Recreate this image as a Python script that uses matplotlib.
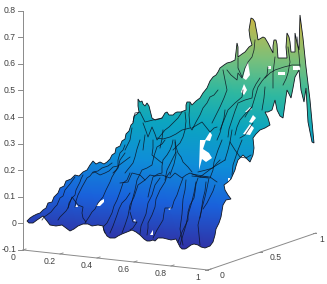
import matplotlib
import numpy as np

matplotlib.use("Agg")

from matplotlib import pyplot as plt  # noqa: E402
from matplotlib.colors import LinearSegmentedColormap  # noqa: E402
from matplotlib.patches import Polygon  # noqa: E402

plt.rcParams["font.family"] = ["Liberation Sans", "DejaVu Sans"]

z_ticks = [-0.1, 0, 0.1, 0.2, 0.3, 0.4, 0.5, 0.6, 0.7, 0.8]
z_labels = ["-0.1", "0", "0.1", "0.2", "0.3", "0.4", "0.5", "0.6", "0.7", "0.8"]
x_ticks = [0, 0.2, 0.4, 0.6, 0.8, 1]
x_labels = ["0", "0.2", "0.4", "0.6", "0.8", "1"]
y_ticks = [0, 0.5, 1]
y_labels = ["0", "0.5", "1"]

edge_top = [
    (27, 221), (30, 218), (33, 216), (37, 214), (40, 213), (43, 210), (46, 208), (48, 203), (52, 202),
    (54, 197), (58, 193), (60, 188), (64, 186), (66, 181), (71, 179), (75, 175), (79, 176), (83, 172),
    (87, 170), (90, 165), (93, 161), (96, 164), (100, 162), (104, 164), (107, 162), (110, 159), (112, 155),
    (115, 153), (116, 148), (120, 146), (122, 141), (125, 139), (126, 134), (129, 131), (131, 125),
    (133, 123), (134, 116), (137, 114), (139, 112), (138, 106), (138, 99), (140, 102), (142, 101),
    (143, 104), (145, 106), (147, 103), (149, 106), (150, 110), (152, 118), (155, 120), (159, 119),
    (162, 118), (165, 113), (167, 112), (169, 115), (173, 115), (175, 113), (177, 112), (181, 112),
    (186, 110), (186, 105), (187, 102), (190, 102), (192, 105), (196, 101), (200, 98), (203, 93),
    (207, 88), (210, 81), (213, 77), (216, 75), (218, 72), (220, 68), (224, 65), (227, 63), (231, 62),
    (235, 60), (236, 52), (237, 43), (238, 47), (238, 57), (242, 54), (245, 52), (249, 47), (252, 45),
    (250, 38), (249, 30), (250, 24), (251, 18), (253, 19), (255, 22), (256, 28), (257, 33), (258, 40),
    (263, 37), (265, 38), (268, 43), (271, 49), (273, 53), (273, 46), (274, 40), (276, 40), (277, 44),
    (278, 58), (287, 58), (286, 47), (287, 33), (289, 37), (290, 42), (291, 52), (295, 52), (295, 33),
    (297, 43), (299, 50), (300, 15),
]
edge_spike = [
    (303, 38), (306, 67), (310, 100), (314, 143), (312, 142), (308, 122), (306, 88),
    (304, 102), (301, 90), (299, 70),
]
edge_right = [
    (295, 77), (293, 88), (291, 98), (289, 94), (287, 90), (285, 104), (283, 118), (280, 116), (277, 110),
    (276, 105), (275, 100), (272, 110), (268, 112), (265, 112), (268, 118), (270, 125), (265, 128),
    (260, 130), (256, 134), (253, 138), (254, 148), (253, 155), (250, 162), (246, 158), (243, 155),
    (238, 160), (236, 166), (235, 170), (231, 179), (228, 182), (224, 185), (225, 190), (228, 195),
    (231, 199), (226, 200), (223, 205), (222, 211), (221, 217), (219, 223), (216, 229), (215, 235),
    (213, 242), (210, 246), (205, 248),
]
edge_bottom = [
    (201, 247), (198, 245), (194, 244), (191, 245), (187, 248), (185, 249), (182, 249), (180, 247),
    (178, 243), (176, 239), (171, 240), (167, 239), (163, 238), (158, 238), (155, 241), (153, 240),
    (150, 241), (147, 241), (144, 239), (140, 235), (136, 232), (132, 230), (127, 232), (122, 234),
    (118, 236), (115, 238), (110, 238), (107, 236), (104, 231), (103, 226), (98, 225), (92, 226),
    (88, 224), (83, 224), (78, 226), (74, 229), (70, 231), (66, 228), (62, 225), (56, 226), (50, 225),
    (47, 221), (43, 216), (40, 218), (37, 220), (33, 223), (29, 223),
]

holes = [
    [(96, 206), (100, 201), (104, 199), (104, 202), (100, 206)],
    [(243, 78), (246, 65), (248, 62), (250, 75), (246, 80)],
    [(241, 92), (244, 84), (247, 90), (244, 95)],
    [(245, 112), (250, 107), (252, 109), (247, 112)],
    [(249, 122), (253, 115), (256, 118), (252, 123)],
    [(243, 134), (250, 124), (254, 128), (250, 135)],
    [(205, 140), (210, 132), (212, 135), (210, 141)],
    [(200, 140), (206, 140), (203, 149), (209, 153), (212, 158), (206, 162), (202, 159), (199, 170)],
    [(268, 66), (271, 66), (271, 69), (268, 69)],
    [(278, 72), (285, 72), (285, 75), (278, 75)],
    [(293, 66), (300, 66), (300, 70), (293, 70)],
    [(228, 178), (230, 178), (230, 181), (228, 181)],
    [(75, 207), (77, 204), (78, 207)],
    [(133, 221), (135, 219), (136, 222)],
    [(168, 209), (171, 207), (170, 210)],
    [(150, 235), (153, 230), (153, 235)],
]

contours = [
    [(42, 220), (44, 217), (47, 215), (51, 212), (55, 207), (57, 205), (60, 198), (63, 196), (65, 190), (70, 184), (75, 177)],
    [(58, 220), (60, 217), (62, 215), (66, 211), (68, 208), (69, 203), (72, 198), (75, 195), (76, 190), (80, 182), (81, 179), (83, 175)],
    [(85, 223), (89, 217), (92, 212), (95, 209), (98, 203), (103, 197), (106, 190), (110, 182), (112, 177), (115, 172), (118, 168), (120, 160), (125, 153)],
    [(105, 233), (103, 227), (107, 223), (110, 217), (112, 213), (114, 206), (117, 200), (120, 192), (123, 183), (127, 180), (130, 173)],
    [(75, 207), (76, 201), (78, 195), (82, 187), (87, 178), (90, 176), (93, 172), (98, 171), (102, 168), (108, 166), (112, 163)],
    [(68, 208), (72, 197), (75, 201), (78, 205), (83, 207), (82, 213), (83, 218), (86, 222)],
    [(110, 233), (113, 226), (117, 215), (119, 209), (122, 203), (126, 199), (130, 193)],
    [(93, 173), (95, 172), (100, 175), (105, 173), (109, 171), (113, 167), (118, 166), (122, 163), (126, 160), (130, 157)],
    [(113, 173), (116, 170), (118, 167), (118, 160), (120, 153), (123, 150), (125, 145)],
    [(122, 233), (125, 225), (128, 216), (130, 205), (134, 197), (138, 185), (145, 180)],
    [(140, 234), (141, 226), (146, 214), (148, 203), (152, 195), (155, 185), (160, 178)],
    [(147, 235), (148, 228), (148, 223), (152, 215), (155, 207), (156, 199), (160, 190), (165, 182), (167, 176), (170, 172)],
    [(153, 238), (157, 230), (163, 220), (164, 213), (165, 208), (172, 208), (174, 201), (177, 195), (180, 186), (183, 178)],
    [(178, 242), (182, 232), (188, 220), (188, 212), (190, 205), (194, 198), (195, 192), (196, 184), (198, 178)],
    [(200, 218), (202, 208), (205, 197), (207, 188), (209, 178)],
    [(130, 212), (133, 222), (137, 222), (133, 228), (130, 230)],
    [(130, 210), (132, 201), (135, 190), (137, 180), (142, 170), (147, 168), (152, 165), (154, 156), (157, 147), (162, 144), (165, 140)],
    [(148, 197), (150, 188), (153, 177), (158, 174), (162, 173), (162, 166), (163, 160), (167, 155), (170, 150), (172, 145), (173, 140)],
    [(120, 183), (128, 182), (132, 173), (136, 174), (140, 175), (145, 180), (150, 175), (155, 176), (162, 175), (170, 178),
     (175, 173), (182, 178), (186, 175), (190, 173), (200, 177), (210, 177), (217, 182)],
    [(175, 140), (176, 147), (178, 153), (181, 157), (183, 162), (188, 167), (192, 172)],
    [(140, 140), (137, 149), (135, 157), (133, 163), (129, 168), (125, 173)],
    [(153, 140), (153, 148), (152, 155), (157, 159), (162, 163)],
    [(198, 172), (206, 170), (213, 168), (217, 163), (220, 160)],
    [(133, 122), (135, 113), (140, 112), (143, 118), (145, 122), (153, 120), (162, 118)],
    [(132, 128), (131, 134), (130, 140), (127, 146), (125, 150)],
    [(143, 123), (146, 131), (148, 137), (152, 127), (155, 134), (157, 140), (161, 135), (165, 130), (169, 127), (173, 123), (178, 118), (182, 112)],
    [(157, 138), (163, 139), (170, 137), (176, 134), (182, 130), (190, 128)],
    [(185, 112), (186, 121), (185, 130), (183, 137), (180, 143), (177, 146), (173, 150)],
    [(190, 103), (189, 115), (190, 127), (192, 130), (196, 122), (200, 115), (203, 108), (207, 103), (210, 97), (214, 95), (218, 90)],
    [(192, 128), (197, 125), (202, 122), (206, 127), (210, 132), (214, 128), (217, 127)],
    [(145, 135), (144, 142), (143, 150)],
    [(163, 130), (162, 139), (160, 148)],
    [(255, 40), (254, 50), (252, 57), (248, 62), (245, 68), (242, 78), (238, 73), (237, 80), (231, 75), (227, 70)],
    [(238, 58), (238, 68), (242, 77)],
    [(223, 70), (225, 80), (227, 90), (224, 98), (220, 107), (216, 115), (212, 123)],
    [(243, 90), (242, 97), (235, 103), (228, 110), (224, 120), (220, 130)],
    [(265, 78), (270, 73), (275, 70), (284, 67), (292, 65), (300, 65)],
    [(268, 67), (267, 75), (262, 81), (258, 87), (255, 97), (252, 107), (248, 112), (245, 117)],
    [(275, 57), (274, 65), (273, 73), (273, 88)],
    [(288, 47), (290, 62), (288, 73), (286, 79), (283, 85)],
    [(260, 78), (256, 84), (253, 90), (252, 98), (245, 100), (238, 103), (235, 111), (232, 120), (229, 129), (228, 137)],
    [(225, 110), (224, 118), (222, 125), (220, 133), (217, 140)],
    [(235, 135), (237, 127), (240, 120), (246, 113), (252, 107)],
    [(253, 123), (249, 129), (245, 135), (240, 138)],
    [(265, 87), (264, 98), (262, 110)],
    [(297, 37), (299, 55), (300, 67)],
    [(186, 180), (185, 190), (183, 199), (182, 214), (180, 229), (183, 245)],
    [(196, 182), (194, 193), (191, 205), (188, 215), (186, 225), (183, 235), (180, 245)],
    [(206, 182), (205, 191), (203, 199), (201, 212), (198, 225), (199, 235), (200, 245)],
    [(215, 185), (213, 191), (210, 197), (207, 203), (203, 209)],
    [(175, 142), (176, 155), (174, 164), (170, 175)],
    [(192, 174), (208, 177)],
    [(192, 176), (208, 178)],
    [(200, 177), (212, 168), (225, 160)],
    [(230, 142), (235, 150), (240, 157), (246, 158), (251, 155)],
    [(165, 180), (167, 170), (172, 160), (176, 152)],
    [(210, 178), (213, 170), (214, 162), (218, 150), (222, 140)],
    [(225, 160), (228, 150), (230, 142), (232, 130)],
    [(232, 175), (233, 165), (238, 150), (242, 140)],
]

# height to colour along the surface, parula-like
level_stops = [0, 25, 60, 100, 140, 175, 210, 250]
level_colors = ["#35229a", "#2c3cb0", "#1a62dc", "#0f8ed8", "#0ca5c0", "#2fb8a0", "#78c07c", "#c6b848"]

ORIGIN = (23.0, 250.0)
X_VEC = (185.0, 20.0)
Y_VEC = (108.0, -37.0)
Z_PX = 266.0


def project(x, y, z=-0.1):
    return (
        ORIGIN[0] + x * X_VEC[0] + y * Y_VEC[0],
        ORIGIN[1] + x * X_VEC[1] + y * Y_VEC[1] - (z + 0.1) * Z_PX,
    )


figure = plt.figure(figsize=(3.27, 2.84), dpi=100)
axis = figure.add_axes([0, 0, 1, 1])
axis.set_xlim(0, 327)
axis.set_ylim(284, 0)
axis.axis("off")

# surface: colour ramp clipped to the traced outline
outline = edge_top + edge_spike + edge_right + edge_bottom
grid_x, grid_y = np.meshgrid(np.arange(0, 327), np.arange(0, 284))
levels = 250 - grid_y + 0.08 * (grid_x - 23)
cmap = LinearSegmentedColormap.from_list(
    "surface", [(s / level_stops[-1], c) for s, c in zip(level_stops, level_colors)]
)
image = axis.imshow(
    levels, cmap=cmap, vmin=0, vmax=level_stops[-1], extent=(0, 327, 284, 0), aspect="auto", zorder=1
)
patch = Polygon(outline, closed=True, facecolor="none", edgecolor="#10141e", linewidth=0.6, zorder=3)
axis.add_patch(patch)
image.set_clip_path(patch)

for hole in holes:
    axis.add_patch(Polygon(hole, closed=True, facecolor="white", edgecolor="none", zorder=2))

for line in contours:
    xs, ys = zip(*line)
    axis.plot(xs, ys, color="#0c1220", linewidth=0.55, alpha=0.85, zorder=2.5)

# box lines and ticks
axis_color = "#8a8a8a"
label_color = "#404040"
x0, y0 = project(1, 0)
x1, y1 = project(1, 1)
axis.plot([ORIGIN[0], ORIGIN[0]], [project(0, 0, 0.8)[1], ORIGIN[1]], color=axis_color, linewidth=0.7, zorder=0)
axis.plot([ORIGIN[0], x0], [ORIGIN[1], y0], color=axis_color, linewidth=0.7, zorder=0)
axis.plot([x0, x1], [y0, y1], color=axis_color, linewidth=0.7, zorder=0)

for value, text in zip(z_ticks, z_labels):
    px, py = project(0, 0, value)
    axis.plot([px - 5, px], [py, py], color=axis_color, linewidth=0.7, zorder=0)
    axis.text(px - 7, py, text, ha="right", va="center", fontsize=6.2, color=label_color)

for value, text in zip(x_ticks, x_labels):
    px, py = project(value, 0)
    axis.plot([px, px + 3], [py, py - 1], color=axis_color, linewidth=0.7, zorder=0)
    axis.text(px - 10, py + 8, text, ha="center", va="center", fontsize=6.2, color=label_color)

for value, text in zip(y_ticks, y_labels):
    px, py = project(1, value)
    axis.plot([px - 3, px], [py, py], color=axis_color, linewidth=0.7, zorder=0)
    axis.text(min(px + 14, 322), py + 6, text, ha="center", va="center", fontsize=6.2, color=label_color)

figure.savefig("out.png", dpi=100)
plt.close(figure)
